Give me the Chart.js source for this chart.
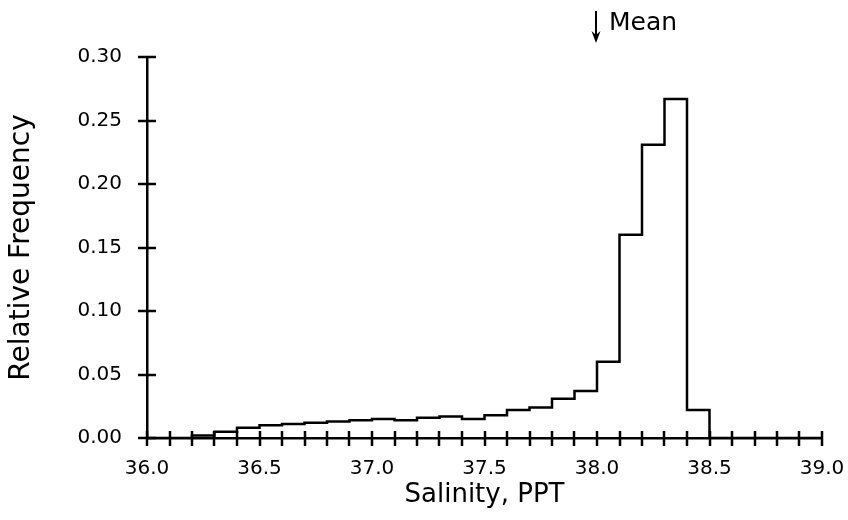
<!DOCTYPE html>
<html>
<head>
<meta charset="utf-8">
<script src="https://cdn.jsdelivr.net/npm/chart.js@4"></script>
<style>
  body { margin: 0; background: #fff; }
  canvas { display: block; }
</style>
</head>
<body>
<canvas id="salinityChart" width="848" height="520"></canvas>
<script>
// bin lower edges (PPT), 0.1 wide; last entry closes the final bin
const binEdges = [36.0, 36.1, 36.2, 36.3, 36.4, 36.5, 36.6, 36.7, 36.8, 36.9,
                  37.0, 37.1, 37.2, 37.3, 37.4, 37.5, 37.6, 37.7, 37.8, 37.9,
                  38.0, 38.1, 38.2, 38.3, 38.4, 38.5, 38.6, 38.7, 38.8, 38.9, 39.0];
// relative frequency per bin
const relFreq = [0, 0, 0.002, 0.005, 0.008, 0.010, 0.011, 0.012, 0.013, 0.014,
                 0.015, 0.014, 0.016, 0.017, 0.015, 0.018, 0.022, 0.024, 0.031, 0.037,
                 0.060, 0.160, 0.231, 0.267, 0.022, 0, 0, 0, 0, 0];
const meanSalinity = 38.0;

const fontFam = '"DejaVu Sans", sans-serif';

// each bin's value is held from its left edge to the next edge
const points = binEdges.map((x, i) => ({ x: x, y: i < relFreq.length ? relFreq[i] : relFreq[relFreq.length - 1] }));

// ticks that cross the axis lines + the mean marker
const extras = {
  id: 'extras',
  afterDraw(chart) {
    const ctx = chart.ctx;
    const xs = chart.scales.x, ys = chart.scales.y;
    const area = chart.chartArea;
    ctx.save();
    ctx.strokeStyle = '#000';
    ctx.lineWidth = 2.5;
    ctx.beginPath();
    xs.ticks.forEach(t => {
      const px = Math.round(xs.getPixelForValue(t.value));
      ctx.moveTo(px, area.bottom - 7);
      ctx.lineTo(px, area.bottom + 8);
    });
    ys.ticks.forEach(t => {
      const py = Math.round(ys.getPixelForValue(t.value));
      ctx.moveTo(area.left - 9, py);
      ctx.lineTo(area.left + 9, py);
    });
    ctx.stroke();

    // mean arrow
    const mx = Math.round(xs.getPixelForValue(meanSalinity)) - 1;
    ctx.lineWidth = 2;
    ctx.beginPath();
    ctx.moveTo(mx, 11);
    ctx.lineTo(mx, 40);
    ctx.stroke();
    ctx.fillStyle = '#000';
    ctx.beginPath();
    ctx.moveTo(mx - 4.5, 31);
    ctx.lineTo(mx, 43);
    ctx.lineTo(mx + 4.5, 31);
    ctx.lineTo(mx, 35);
    ctx.closePath();
    ctx.fill();
    ctx.font = '25px ' + fontFam;
    ctx.textBaseline = 'middle';
    ctx.textAlign = 'left';
    ctx.fillText('Mean', mx + 13, 23);
    ctx.restore();
  }
};

new Chart(document.getElementById('salinityChart'), {
  type: 'line',
  data: {
    datasets: [{
      data: points,
      stepped: 'before',
      borderColor: '#000',
      borderWidth: 2.5,
      pointRadius: 0,
      fill: false
    }]
  },
  options: {
    responsive: false,
    animation: false,
    layout: { padding: { top: 57, right: 26, left: 0, bottom: 0 } },
    plugins: { legend: { display: false }, tooltip: { enabled: false } },
    scales: {
      x: {
        type: 'linear',
        min: 36,
        max: 39,
        afterFit: s => { s.height = 82; s.paddingLeft = 0; s.paddingRight = 0; },
        grid: { display: false, drawTicks: false },
        border: { display: true, color: '#000', width: 2.5 },
        ticks: {
          stepSize: 0.1,
          autoSkip: false,
          maxRotation: 0,
          padding: 19,
          color: '#000',
          font: { family: fontFam, size: 20 },
          callback: v => Math.abs(v * 2 - Math.round(v * 2)) < 1e-6 ? v.toFixed(1) : ''
        },
        title: {
          display: true,
          text: 'Salinity, PPT',
          color: '#000',
          font: { family: fontFam, size: 26 },
          padding: { top: 0, bottom: 9 }
        }
      },
      y: {
        min: 0,
        max: 0.3,
        afterFit: s => { s.width = 147; },
        grid: { display: false, drawTicks: false },
        border: { display: true, color: '#000', width: 2.5 },
        ticks: {
          stepSize: 0.05,
          padding: 25,
          color: '#000',
          font: { family: fontFam, size: 20 },
          callback: v => v.toFixed(2)
        },
        title: {
          display: true,
          text: 'Relative Frequency',
          color: '#000',
          font: { family: fontFam, size: 28 },
          padding: { top: 5, bottom: 0 }
        }
      }
    }
  },
  plugins: [extras]
});
</script>
</body>
</html>
